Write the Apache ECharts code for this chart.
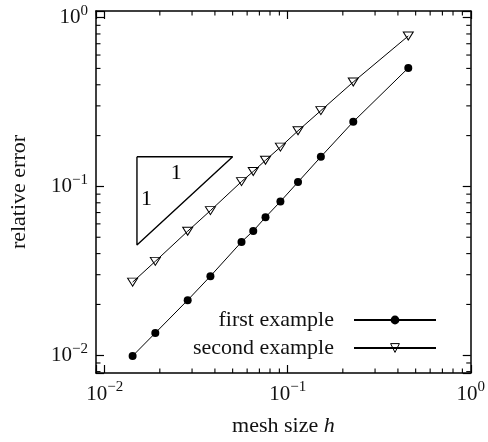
<!DOCTYPE html>
<html><head><meta charset="utf-8">
<script src="https://cdn.jsdelivr.net/npm/echarts@6/dist/echarts.min.js"></script>
<style>html,body{margin:0;padding:0;background:#fff}#c{width:488px;height:442px}</style>
</head><body><div id="c"></div>
<script>
// ---- data ----
const meshSize = [0.0142, 0.0189, 0.0284, 0.0378, 0.0559, 0.0648, 0.0756, 0.0912, 0.1138, 0.1517, 0.2281, 0.4557];
const firstExample = [0.0099, 0.01355, 0.0212, 0.0294, 0.0469, 0.0545, 0.0657, 0.0814, 0.1061, 0.1498, 0.2415, 0.503];
const secondExample = [0.0271, 0.0360, 0.0543, 0.0719, 0.1068, 0.1226, 0.1428, 0.1710, 0.2136, 0.2812, 0.4155, 0.778];
const slopeTriangle = [[0.015, 0.15], [0.05, 0.15], [0.015, 0.045], [0.015, 0.15]];
const slopeLabelPos = [[0.0246, 0.119], [0.0169, 0.0839]];
const slopeLabelText = ['1', '1'];
const decadeValues = [0.01, 0.1, 1];
const decadeLabels = ['{b|10}{s|\u22122}', '{b|10}{s|\u22121}', '{b|10}{s|0}'];
const xRange = [0.00896, 1];
const yRange = [0.00785, 1.094];
const seriesNames = ['first example', 'second example'];

const FONT = 'Liberation Serif';
const INK = '#111';

function minorTicks(range) {
  const out = [];
  for (let e = -3; e <= 0; e++) {
    for (let k = 2; k <= 9; k++) {
      const v = k * Math.pow(10, e);
      if (v > range[0] && v < range[1]) out.push(v);
    }
  }
  return out;
}
const xMinor = minorTicks(xRange);
const yMinor = minorTicks(yRange);

function decadeFormatter(v) {
  for (let i = 0; i < decadeValues.length; i++) {
    if (Math.abs(Math.log10(v) - Math.log10(decadeValues[i])) < 1e-6) return decadeLabels[i];
  }
  return '';
}
const labelRich = {
  b: { fontFamily: FONT, fontSize: 21, lineHeight: 28, color: INK },
  s: { fontFamily: FONT, fontSize: 15, lineHeight: 14, verticalAlign: 'top', color: INK }
};
const axisLineStyle = { color: '#000', width: 1.5 };

const chart = echarts.init(document.getElementById('c'), null, { renderer: 'canvas' });
chart.setOption({
  animation: false,
  backgroundColor: '#fff',
  grid: { left: 96, right: 14, top: 11, bottom: 69, containLabel: false },
  xAxis: [
    {
      type: 'log', min: xRange[0], max: xRange[1], position: 'bottom',
      axisLine: { show: true, lineStyle: axisLineStyle },
      axisTick: { show: true, inside: true, length: 8, lineStyle: { color: '#000', width: 1.2 } },
      splitLine: { show: false },
      axisLabel: { show: true, margin: 7, formatter: decadeFormatter, rich: labelRich },
      name: 'mesh size {i|h}', nameLocation: 'middle', nameGap: 42,
      nameTextStyle: {
        fontFamily: FONT, fontSize: 22, color: INK,
        rich: { i: { fontFamily: FONT, fontSize: 22, fontStyle: 'italic', color: INK } }
      }
    },
    {
      type: 'log', min: xRange[0], max: xRange[1], position: 'top',
      axisLine: { show: true, lineStyle: axisLineStyle },
      axisTick: { show: true, inside: true, length: 8, lineStyle: { color: '#000', width: 1.2 } },
      splitLine: { show: false },
      axisLabel: { show: false }
    }
  ],
  yAxis: [
    {
      type: 'log', min: yRange[0], max: yRange[1], position: 'left',
      axisLine: { show: true, lineStyle: axisLineStyle },
      axisTick: { show: true, inside: true, length: 8, lineStyle: { color: '#000', width: 1.2 } },
      splitLine: { show: false },
      axisLabel: { show: true, margin: 8, formatter: decadeFormatter, rich: labelRich },
      name: 'relative error', nameLocation: 'middle', nameGap: 66,
      nameTextStyle: { fontFamily: FONT, fontSize: 22, color: INK }
    },
    {
      type: 'log', min: yRange[0], max: yRange[1], position: 'right',
      axisLine: { show: true, lineStyle: axisLineStyle },
      axisTick: { show: true, inside: true, length: 8, lineStyle: { color: '#000', width: 1.2 } },
      splitLine: { show: false },
      axisLabel: { show: false }
    }
  ],
  legend: {
    data: seriesNames,
    orient: 'vertical', right: 46, top: 304, align: 'right',
    itemWidth: 82, itemHeight: 11, itemGap: 6,
    itemStyle: { borderWidth: 1 },
    textStyle: { fontFamily: FONT, fontSize: 22, color: INK, padding: [0, 15, 0, 0] }
  },
  series: [
    {
      name: 'slope', type: 'line', silent: true, symbol: 'none',
      data: slopeTriangle,
      lineStyle: { color: '#000', width: 1.4 }, z: 3
    },
    {
      name: 'slopeText', type: 'scatter', silent: true, symbolSize: 1,
      itemStyle: { color: '#fff', opacity: 1 },
      data: slopeLabelPos,
      label: {
        show: true, position: [0.5, 0.5], align: 'center', verticalAlign: 'middle',
        fontFamily: FONT, fontSize: 22, color: '#000', textBorderWidth: 0, opacity: 1,
        formatter: p => slopeLabelText[p.dataIndex]
      }
    },
    {
      name: seriesNames[0], type: 'line',
      data: meshSize.map((x, i) => [x, firstExample[i]]),
      symbol: 'circle', symbolSize: 8,
      itemStyle: { color: '#000' },
      lineStyle: { color: '#000', width: 1 }, z: 5
    },
    {
      name: seriesNames[1], type: 'line',
      data: meshSize.map((x, i) => [x, secondExample[i]]),
      symbol: 'triangle', symbolSize: [10, 8], symbolRotate: 180,
      itemStyle: { color: 'rgba(255,255,255,0)', borderColor: '#000', borderWidth: 1 },
      lineStyle: { color: '#000', width: 1 }, z: 5
    },
    {
      name: 'xMinorTicks', type: 'custom', silent: true,
      data: xMinor.map(v => [v, 0.1]),
      renderItem: (params, api) => {
        const cs = params.coordSys;
        const x = api.coord([api.value(0), 0.1])[0];
        const st = { stroke: '#000', lineWidth: 1.1 };
        return { type: 'group', children: [
          { type: 'line', shape: { x1: x, y1: cs.y + cs.height, x2: x, y2: cs.y + cs.height - 4.5 }, style: st },
          { type: 'line', shape: { x1: x, y1: cs.y, x2: x, y2: cs.y + 4.5 }, style: st }
        ] };
      }
    },
    {
      name: 'yMinorTicks', type: 'custom', silent: true,
      data: yMinor.map(v => [0.1, v]),
      renderItem: (params, api) => {
        const cs = params.coordSys;
        const y = api.coord([0.1, api.value(1)])[1];
        const st = { stroke: '#000', lineWidth: 1.1 };
        return { type: 'group', children: [
          { type: 'line', shape: { x1: cs.x, y1: y, x2: cs.x + 4.5, y2: y }, style: st },
          { type: 'line', shape: { x1: cs.x + cs.width, y1: y, x2: cs.x + cs.width - 4.5, y2: y }, style: st }
        ] };
      }
    }
  ]
});
</script>
</body></html>
